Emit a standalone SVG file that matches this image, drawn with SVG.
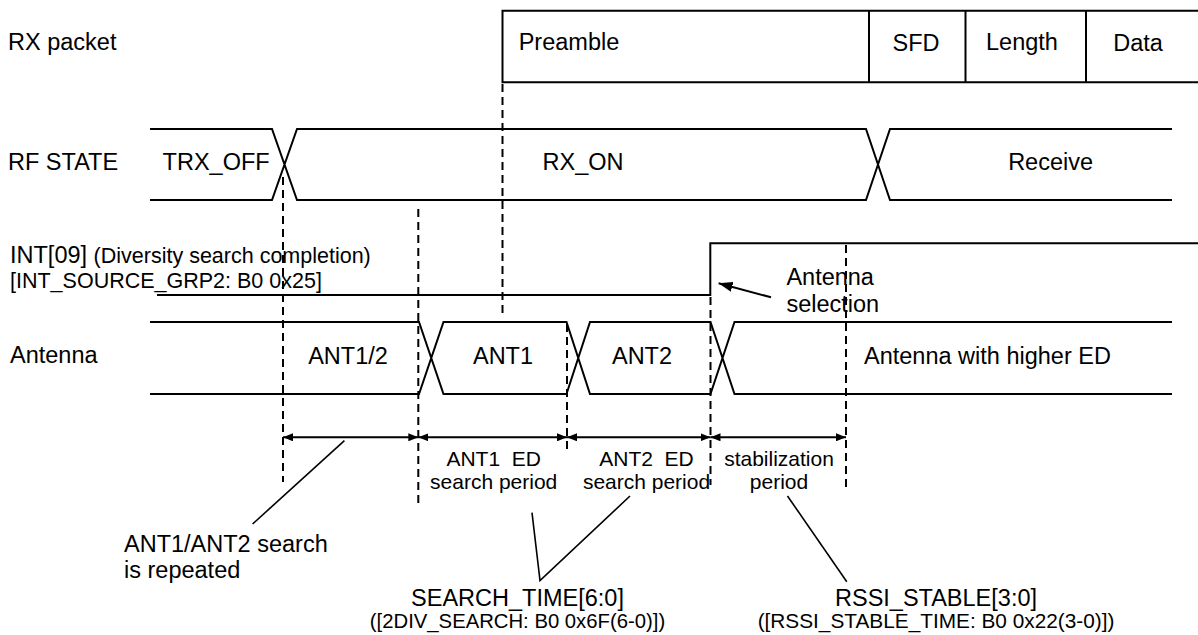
<svg xmlns="http://www.w3.org/2000/svg" width="1198" height="635" viewBox="0 0 1198 635">
<defs>
<style>
.t{font-family:"Liberation Sans",Arial,sans-serif;fill:#000;font-size:23.5px}
.s{font-size:21px}
.m{text-anchor:middle}
.p{white-space:pre}
.w{fill:none;stroke:#000;stroke-width:2}
.d{fill:none;stroke:#000;stroke-width:2;stroke-dasharray:8 5}
.l{fill:none;stroke:#000;stroke-width:1.6}
.a{fill:none;stroke:#000;stroke-width:2;marker-start:url(#ah);marker-end:url(#ah)}
</style>
<marker id="ah" markerUnits="userSpaceOnUse" markerWidth="11" markerHeight="8" refX="10" refY="4" orient="auto-start-reverse">
<path d="M0,0 L10,4 L0,8 z" fill="#000"/>
</marker>
<marker id="ab" markerUnits="userSpaceOnUse" markerWidth="15" markerHeight="10" refX="14" refY="5" orient="auto">
<path d="M0,0 L14,5 L0,10 z" fill="#000"/>
</marker>
</defs>
<rect width="1198" height="635" fill="#fff"/>

<g id="rx-packet">
<text class="t" x="8" y="50">RX packet</text>
<path class="w" d="M1198,10.7 H502.5 V82.3 H1198 M869,10.7 V82.3 M965.5,10.7 V82.3 M1086,10.7 V82.3"/>
<text class="t" x="518.7" y="50">Preamble</text>
<text class="t m" x="916" y="51">SFD</text>
<text class="t m" x="1022" y="49.5">Length</text>
<text class="t m" x="1138" y="51">Data</text>
</g>

<g id="rf-state">
<text class="t" x="8" y="170">RF STATE</text>
<path class="w" d="M150,129 H272 L297,200 H866 L890,129 H1172 M150,200 H272 L297,129 H866 L890,200 H1172"/>
<text class="t" x="162.6" y="169.5">TRX_OFF</text>
<text class="t m" x="583" y="169.5">RX_ON</text>
<text class="t m" x="1050.6" y="169.5">Receive</text>
</g>

<g id="int09">
<text class="t" x="10" y="262.7">INT[09] <tspan style="font-size:21.5px">(Diversity search completion)</tspan></text>
<text class="t" x="10" y="288.3" style="font-size:21.5px">[INT_SOURCE_GRP2: B0 0x25]</text>
<path class="w" d="M157,295 H710.3 V243.3 H1198"/>
</g>

<g id="antenna">
<text class="t" x="10" y="363">Antenna</text>
<path class="w" d="M150,322 H419 L443.5,394 H566.5 L590,322 H710.5 L734.5,394 H1172 M150,394 H419 L443.5,322 H566.5 L590,394 H710.5 L734.5,322 H1172"/>
<text class="t m" x="348" y="364">ANT1/2</text>
<text class="t m" x="503" y="364">ANT1</text>
<text class="t m" x="642" y="364">ANT2</text>
<text class="t" x="864" y="364">Antenna with higher ED</text>
</g>

<g id="antenna-selection">
<text class="t" x="786.4" y="285">Antenna</text>
<text class="t" x="786.4" y="311.7">selection</text>
</g>

<g id="periods">
<text class="t s m p" x="493.7" y="466" xml:space="preserve">ANT1  ED</text>
<text class="t s m" x="493.7" y="489">search period</text>
<text class="t s m p" x="646.5" y="466" xml:space="preserve">ANT2  ED</text>
<text class="t s m" x="646.5" y="489">search period</text>
<text class="t s m" x="779" y="466">stabilization</text>
<text class="t s m" x="779" y="489">period</text>
</g>

<g id="note-repeat">
<text class="t" x="124" y="552">ANT1/ANT2 search</text>
<text class="t" x="124" y="578">is repeated</text>
</g>

<g id="note-search-time">
<text class="t m" x="517.5" y="605.7">SEARCH_TIME[6:0]</text>
<text class="t m" x="517.5" y="628.3" style="font-size:20.3px">([2DIV_SEARCH: B0 0x6F(6-0)])</text>
</g>

<g id="note-rssi">
<text class="t m" x="936" y="605.7">RSSI_STABLE[3:0]</text>
<text class="t m" x="936" y="628.3" style="font-size:20.8px">([RSSI_STABLE_TIME: B0 0x22(3-0)])</text>
</g>

<g id="connectors">
<path class="d" d="M502.5,84 V318"/>
<path class="d" d="M283,177 V482"/>
<path class="d" d="M418.3,209 V503"/>
<path class="d" d="M567,324 V453"/>
<path class="d" d="M710.5,297 V485"/>
<path class="d" d="M846,245 V487"/>
<line class="a" x1="283" y1="437.3" x2="418.3" y2="437.3"/>
<line class="a" x1="418.3" y1="437.3" x2="567" y2="437.3"/>
<line class="a" x1="567" y1="437.3" x2="710.5" y2="437.3"/>
<line class="a" x1="710.5" y1="437.3" x2="846" y2="437.3"/>
<line class="w" x1="771" y1="297.3" x2="718.6" y2="283.3" marker-end="url(#ab)"/>
<path class="l" d="M344.4,440.7 L252.6,524"/>
<path class="l" d="M532,512.7 L540,580.7 L630,496"/>
<path class="l" d="M787.5,496 L846.8,581.7"/>
</g>
</svg>
